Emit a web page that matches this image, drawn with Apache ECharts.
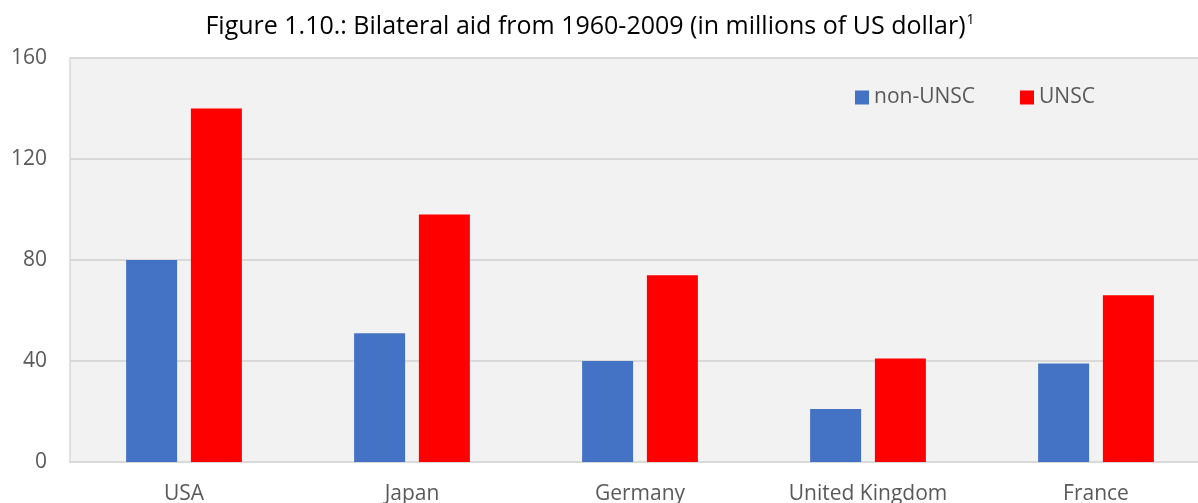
<!DOCTYPE html>
<html>
<head>
<meta charset="utf-8">
<script src="https://cdn.jsdelivr.net/npm/echarts@6/dist/echarts.min.js"></script>
<style>
  html, body { margin: 0; padding: 0; background: #ffffff; }
  #chart { width: 1198px; height: 503px; }
</style>
</head>
<body>
<div id="chart"></div>
<script>
// Bilateral aid by donor country, 1960-2009 (millions of US dollars)
const countries = ['USA', 'Japan', 'Germany', 'United Kingdom', 'France'];
const nonUnsc = [80, 51, 40, 21, 39];
const unsc = [140, 98, 74, 41, 66];
const yTicks = { min: 0, max: 160, interval: 40 };

const FONT = 'Open Sans';
const chart = echarts.init(document.getElementById('chart'), null, { renderer: 'canvas' });

chart.setOption({
  animation: false,
  backgroundColor: '#ffffff',
  title: {
    text: '{t|Figure 1.10.: Bilateral aid from 1960-2009 (in millions of US dollar)}{sup|1}',
    left: 590,
    textAlign: 'center',
    top: 13,
    padding: 0,
    textStyle: {
      fontFamily: FONT,
      fontSize: 25,
      fontWeight: 'normal',
      color: '#000000',
      rich: {
        t: { fontFamily: FONT, fontSize: 25, color: '#000000' },
        sup: { fontFamily: FONT, fontSize: 14, color: '#000000', verticalAlign: 'top', padding: [0, 0, 13, 1] }
      }
    }
  },
  legend: {
    left: 855,
    top: 87,
    padding: 0,
    itemWidth: 14,
    itemHeight: 14,
    itemGap: 45,
    icon: 'rect',
    textStyle: { fontFamily: FONT, fontSize: 21, color: '#595959' },
    data: ['non-UNSC', 'UNSC']
  },
  grid: {
    left: 70,
    top: 58,
    bottom: 41,
    width: 1140,
    outerBoundsMode: 'none',
    show: true,
    backgroundColor: '#f2f2f2',
    borderColor: '#d9d9d9',
    borderWidth: 1.5,
    containLabel: false
  },
  xAxis: {
    type: 'category',
    data: countries,
    axisLine: { show: true, lineStyle: { color: '#d9d9d9', width: 2 } },
    axisTick: { show: false },
    axisLabel: { fontFamily: FONT, fontSize: 21, color: '#595959', margin: 22 }
  },
  yAxis: {
    type: 'value',
    min: yTicks.min,
    max: yTicks.max,
    interval: yTicks.interval,
    axisLine: { show: false },
    axisTick: { show: false },
    splitLine: { lineStyle: { color: '#d9d9d9', width: 2 } },
    axisLabel: { fontFamily: FONT, fontSize: 21, color: '#595959', margin: 23 }
  },
  series: [
    {
      name: 'non-UNSC',
      type: 'bar',
      data: nonUnsc,
      barWidth: 51,
      barGap: '27%',
      itemStyle: { color: '#4472c4' }
    },
    {
      name: 'UNSC',
      type: 'bar',
      data: unsc,
      barWidth: 51,
      barGap: '27%',
      itemStyle: { color: '#ff0000' }
    }
  ]
});
</script>
</body>
</html>
